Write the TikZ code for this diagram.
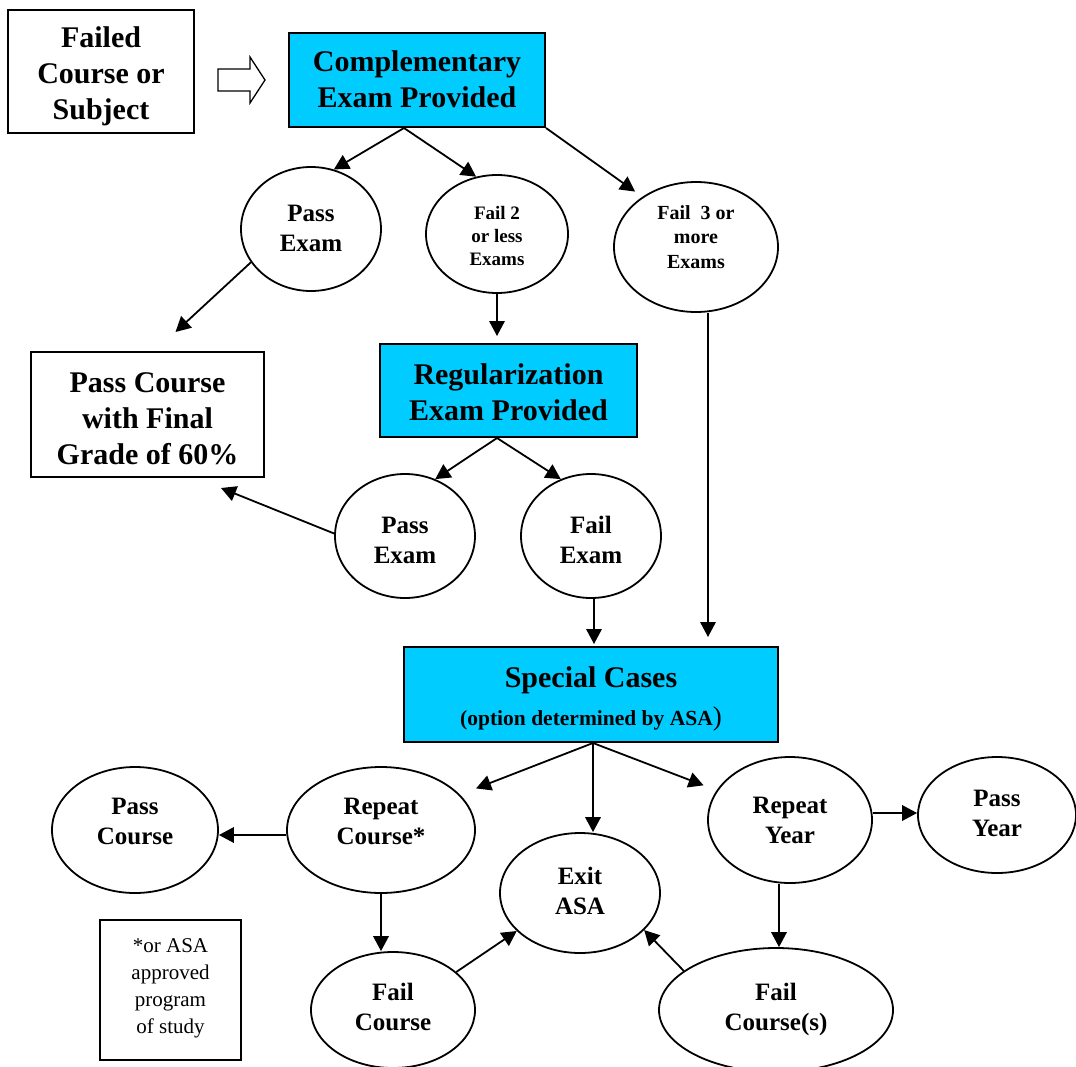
\documentclass[tikz,border=0pt]{standalone}
\usepackage{fontspec}
\setmainfont{Liberation Serif}
\usetikzlibrary{shapes.geometric,arrows.meta}
\definecolor{boxcyan}{RGB}{0,204,255}
\newcommand{\mlines}[2]{\raisebox{#1}[\height][\depth]{\begin{tabular}{@{}c@{}}#2\end{tabular}}}
\begin{document}
\begin{tikzpicture}[x=1pt,y=-1pt,
  box/.style={draw,line width=2pt,inner sep=0pt,font=\bfseries\fontsize{30}{36}\selectfont},
  cbox/.style={box,fill=boxcyan},
  ell/.style={draw,ellipse,line width=1.8pt,inner sep=0pt,font=\bfseries\fontsize{25}{30}\selectfont},
  arr/.style={line width=1.8pt,-{Triangle[length=15pt,width=15.5pt]}},
  hollow/.style={draw,line width=1.3pt,fill=white},
]
\useasboundingbox (0,0) rectangle (1076,1066);
\fill[white] (0,0) rectangle (1076,1066);

% boxes
\node[box,minimum width=186pt,minimum height=123pt] (failed) at (101,71.5) {\mlines{-5pt}{Failed\\Course or\\Subject}};
\node[cbox,minimum width=256pt,minimum height=94pt] (comp) at (417,80) {\mlines{-2.5pt}{Complementary\\Exam Provided}};
\node[box,minimum width=233pt,minimum height=125pt] (pcbox) at (147.5,414.5) {\mlines{-6.5pt}{Pass Course\\with Final\\Grade of 60\%}};
\node[cbox,minimum width=257pt,minimum height=93pt] (reg) at (508.5,390.5) {\mlines{-5pt}{Regularization\\Exam Provided}};
\node[cbox,minimum width=374pt,minimum height=95pt] (sc) at (591,694.5) {\mlines{-5pt}{Special Cases\\[2pt]{\fontsize{21.5}{26}\selectfont(option determined by ASA}{\fontsize{27}{26}\selectfont\mdseries)}}};
\node[box,font=\fontsize{21}{27}\selectfont,minimum width=141pt,minimum height=140pt] (note) at (170.5,990) {\mlines{2pt}{*or ASA\\approved\\program\\of study}};

% ellipses
\node[ell,minimum width=140pt,minimum height=124pt] (pe1) at (311,229) {\mlines{-1pt}{Pass\\Exam}};
\node[ell,font=\bfseries\fontsize{19}{23}\selectfont,minimum width=142pt,minimum height=118pt] (f2) at (497,234) {\mlines{-3.5pt}{Fail 2\\or less\\Exams}};
\node[ell,font=\bfseries\fontsize{20}{24.5}\selectfont,minimum width=164pt,minimum height=130pt] (f3) at (696,247) {\mlines{8pt}{Fail\ \ 3 or\\more\\Exams}};
\node[ell,minimum width=140pt,minimum height=124pt] (pe2) at (405,536) {\mlines{-6pt}{Pass\\Exam}};
\node[ell,minimum width=140pt,minimum height=124pt] (fe) at (591,536) {\mlines{-6pt}{Fail\\Exam}};
\node[ell,minimum width=166pt,minimum height=126pt] (pco) at (135,830) {\mlines{7pt}{Pass\\Course}};
\node[ell,minimum width=188pt,minimum height=126pt] (rc) at (381,830) {\mlines{7pt}{Repeat\\Course*}};
\node[ell,minimum width=160pt,minimum height=120pt] (ex) at (580,893) {\mlines{0pt}{Exit\\ASA}};
\node[ell,minimum width=164pt,minimum height=126pt] (ry) at (790,820) {\mlines{-2pt}{Repeat\\Year}};
\node[ell,minimum width=158pt,minimum height=116pt] (py) at (997,815) {\mlines{0pt}{Pass\\Year}};
\node[ell,minimum width=164pt,minimum height=116pt] (fc) at (393,1010) {\mlines{1pt}{Fail\\Course}};
\node[ell,minimum width=234pt,minimum height=124pt] (fcs) at (776,1010) {\mlines{1pt}{Fail\\Course(s)}};

% hollow arrow
\draw[hollow] (218,69) -- (250,69) -- (250,57) -- (265,80) -- (250,103) -- (250,91) -- (218,91) -- cycle;

% connectors
\draw[arr] ([xshift=-13pt]comp.south) -- (pe1.69);
\draw[arr] ([xshift=-13pt]comp.south) -- (f2.110);
\draw[arr] (comp.south east) -- ([xshift=-6pt,yshift=6pt]f3.138);
\draw[arr] (pe1.209) -- ([xshift=28pt,yshift=19pt]pcbox.north);
\draw[arr,shorten >=7pt] (f2.south) -- (f2.south |- reg.north);
\draw[arr] ([xshift=-11.5pt]reg.south) -- (pe2.62);
\draw[arr] ([xshift=-11.5pt]reg.south) -- (fe.118);
\draw[arr] (pe2.178) -- ([xshift=-44pt,yshift=-10pt]pcbox.south east);
\draw[arr,shorten >=2pt] ([xshift=3pt]fe.south) -- ([xshift=3pt]fe.south |- sc.north);
\draw[arr,shorten >=9pt] ([xshift=12pt]f3.south) -- ([xshift=12pt]f3.south |- sc.north);
\draw[arr] ([xshift=2pt]sc.south) -- ([xshift=23pt]rc.30);
\draw[arr] ([xshift=2pt]sc.south) -- ([xshift=2pt]sc.south |- ex.north);
\draw[arr] ([xshift=2pt]sc.south) -- ([xshift=-13pt,yshift=5pt]ry.158);
\draw[arr] ([yshift=-5pt]rc.west) -- ([yshift=-5pt]pco.east);
\draw[arr] ([yshift=7pt]ry.east) -- ([yshift=7pt]ry.east -| py.west);
\draw[arr] (rc.south) -- (rc.south |- fc.north);
\draw[arr] (fc.31) -- (ex.211);
\draw[arr] ([xshift=-11pt]ry.south) -- ([xshift=-11pt]ry.south |- fcs.north);
\draw[arr] (fcs.157) -- (ex.330);
\end{tikzpicture}
\end{document}
